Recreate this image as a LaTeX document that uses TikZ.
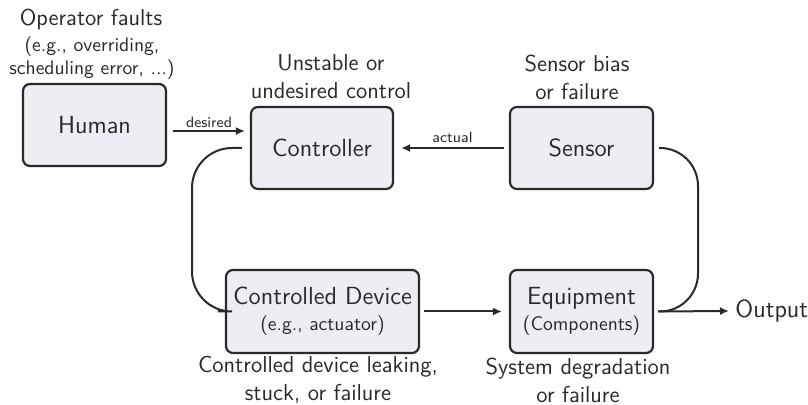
\documentclass[tikz,border=0pt]{standalone}
\usetikzlibrary{arrows.meta}
\definecolor{boxfill}{HTML}{EDEDF3}
\definecolor{ink}{HTML}{2A2A2A}
\newcommand{\subsz}{\fontsize{9.8}{11.5}\selectfont}
\newcommand{\boxsz}{\fontsize{12.4}{14}\selectfont}
\begin{document}
\begin{tikzpicture}[x=0.5pt,y=-0.5pt,
  font=\sffamily\fontsize{11.5}{14}\selectfont, text=ink,
  blk/.style={draw=ink, line width=1.1pt, fill=boxfill, rounded corners=3.5pt,
    inner sep=0pt, align=center, font=\sffamily\boxsz},
  sub/.style={font=\sffamily\subsz},
  lbl/.style={font=\sffamily\fontsize{7.5}{9}\selectfont, inner sep=1pt},
  note/.style={align=center, inner sep=0pt},
  conn/.style={draw=ink, line width=1pt},
  arr/.style={conn, -{Latex[length=4.5pt,width=4pt]}}]
\useasboundingbox (0,0) rectangle (808,405);

% boxes
\node[blk, minimum width=71.5pt, minimum height=41pt] (human) at (94.5,125) {Human};
\node[blk, minimum width=71pt, minimum height=41pt] (ctrl) at (322,148) {Controller};
\node[blk, minimum width=71.5pt, minimum height=41pt] (sensor) at (581.5,148) {Sensor};
\node[blk, minimum width=96.5pt, minimum height=41.5pt] (cd) at (322.5,311.5)
  {Controlled Device\\[-1pt]{\subsz (e.g., actuator)}};
\node[blk, minimum width=71.5pt, minimum height=41.5pt] (eq) at (581.5,311.5)
  {Equipment\\[-1pt]{\subsz (Components)}};
\node[anchor=west, inner sep=0pt, font=\sffamily\boxsz] (out) at (735,311) {Output};

% annotations
\node[note] (opf) at (91,20) {Operator faults};
\node[note, sub] (opd) at (92,58) {(e.g., overriding,\\scheduling error, ...)};
\node[note] (uns) at (331,77) {Unstable or\\undesired control};
\node[note] (sbf) at (577,77) {Sensor bias\\or failure};
\node[note] (cdf) at (318,380) {Controlled device leaking,\\stuck, or failure};
\node[note] (sdf) at (578,380) {System degradation\\or failure};

% coordinates for connector ends
\coordinate (lx) at (192,0);
\coordinate (rx) at (698,0);
\coordinate (d0) at ([xshift=3pt,yshift=-3pt]human.east);
\coordinate (d1) at ([xshift=-2.5pt]ctrl.west |- d0);

% connectors
\draw[arr] (d0) -- (d1) node[midway, above, lbl] {desired};
\draw[arr] ([xshift=-2.5pt]sensor.west) -- ([xshift=3.5pt]ctrl.east)
  node[midway, above, lbl, yshift=1pt] {actual};
\draw[arr] ([xshift=2pt]cd.east) -- ([xshift=-3.5pt]eq.west);
\draw[arr] ([xshift=2pt]eq.east) -- ([xshift=-3pt]out.west);
\draw[conn] ([xshift=-4pt]ctrl.west) [rounded corners=20pt] -| (lx |- cd.west)
  [rounded corners=13pt] -- ([xshift=-3.5pt]cd.west);
\draw[conn] ([xshift=2.5pt]sensor.east) [rounded corners=19pt] -| (rx |- eq.east)
  [rounded corners=14pt] -- ([xshift=2pt]eq.east);
\end{tikzpicture}
\end{document}
